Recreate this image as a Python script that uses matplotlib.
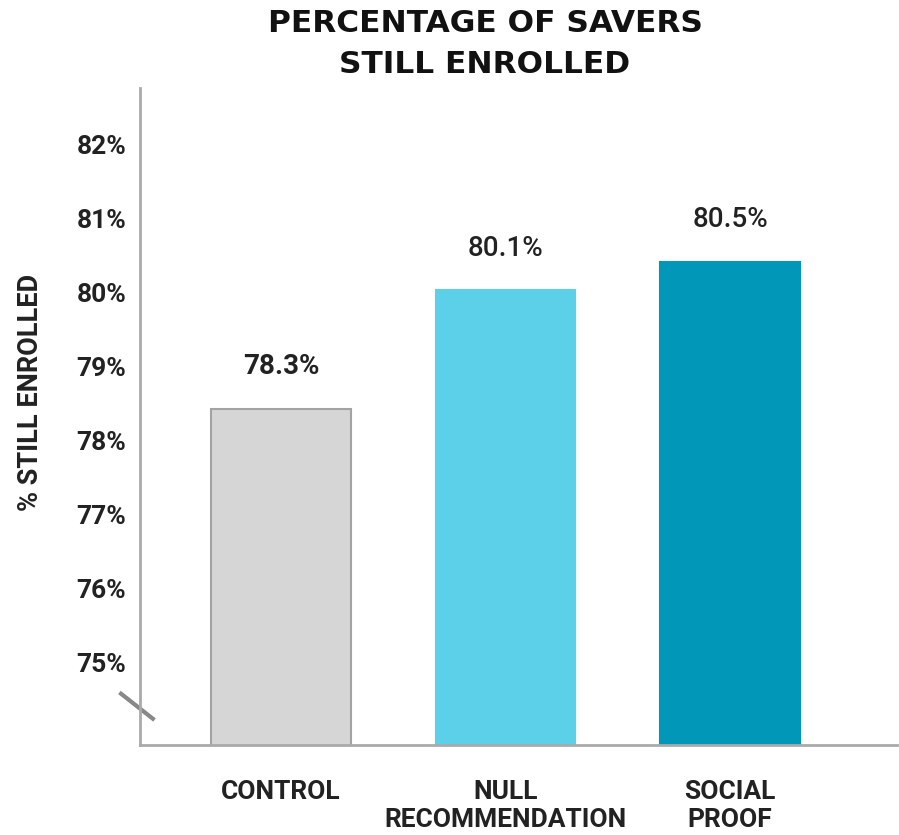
import matplotlib.pyplot as plt

# data
categories = ["CONTROL", "NULL\nRECOMMENDATION", "SOCIAL\nPROOF"]
bar_heights = [78.43, 80.03, 80.42]
value_labels = ["78.3%", "80.1%", "80.5%"]
label_weights = ["bold", "medium", "medium"]
bar_colors = ["#d6d6d6", "#5bd0e8", "#0097b9"]
edge_colors = ["#a3a3a3", "#5bd0e8", "#0097b9"]
y_ticks = [75, 76, 77, 78, 79, 80, 81, 82]

plt.rcParams['font.family'] = ['Roboto', 'DejaVu Sans']

fig = plt.figure(figsize=(8.99, 8.35), dpi=100)
ax = fig.add_axes([140 / 899, 90 / 835, 757 / 899, 657 / 835])

x = range(len(categories))
ax.bar(x, bar_heights, width=0.62, color=bar_colors, edgecolor=edge_colors, linewidth=1.5)
ax.set_xlim(-0.628, 2.744)
ax.set_ylim(73.88, 82.77)

for xi, h, lab, w in zip(x, bar_heights, value_labels, label_weights):
    ax.annotate(lab, (xi, h), xytext=(0, 30.5), textcoords="offset points",
                ha="center", va="center", fontsize=20, fontweight=w, color="#222222")

ax.set_yticks(y_ticks)
ax.set_yticklabels([f"{v}%" for v in y_ticks], fontsize=19, fontweight="bold", color="#222222")
ax.set_xticks(list(x))
ax.set_xticklabels(categories, fontsize=19, fontweight="bold", color="#222222", linespacing=1.2)
ax.tick_params(axis="y", length=0, pad=10)
ax.tick_params(axis="x", length=0, pad=25)
for lbl in ax.get_xticklabels():
    lbl.set_verticalalignment("top")

for side in ["top", "right"]:
    ax.spines[side].set_visible(False)
for side in ["left", "bottom"]:
    ax.spines[side].set_color("#aaaaaa")
    ax.spines[side].set_linewidth(2)

# axis break mark
ax.plot([-0.025, 0.017], [0.078, 0.040], color="#888888", linewidth=3,
        transform=ax.transAxes, clip_on=False)

ax.set_ylabel("% STILL ENROLLED", fontsize=19.5, fontweight="bold", color="#222222")
ax.yaxis.set_label_coords(-0.127, 0.536)

fig.text(485 / 899, 1 - 44 / 835, "PERCENTAGE OF SAVERS\nSTILL ENROLLED", ha="center", va="center",
         fontsize=22.5, fontweight="bold", color="#111111", linespacing=1.5,
         family=["DejaVu Sans"])

fig.savefig("out.png", dpi=100)
